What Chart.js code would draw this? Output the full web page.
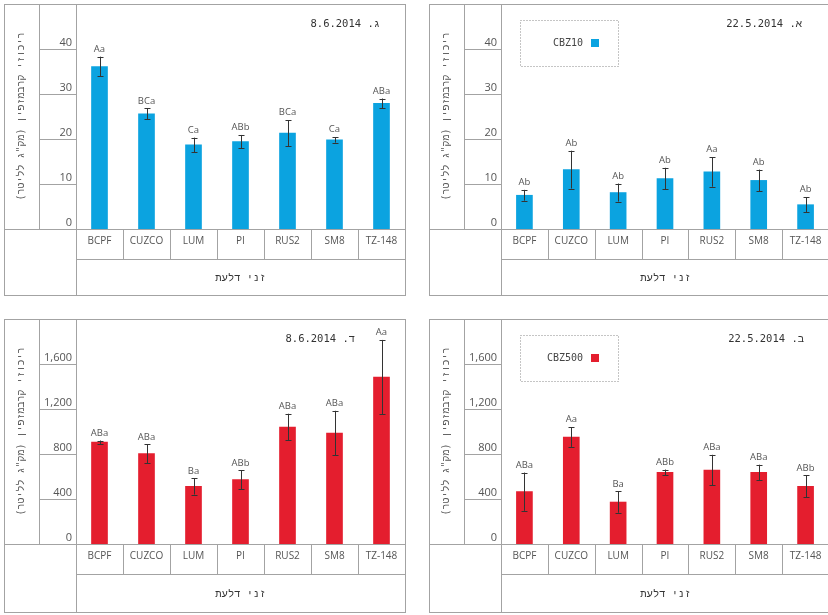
<!DOCTYPE html>
<html><head><meta charset="utf-8">
<script src="https://cdn.jsdelivr.net/npm/chart.js@4/dist/chart.umd.min.js"></script>
<style>
html,body{margin:0;padding:0;background:#fff;overflow:hidden;width:828px;height:615px;position:relative;}
canvas{position:absolute;}
</style></head><body>
<canvas id="cC" style="left:0px;top:0px" width="410" height="300"></canvas>
<canvas id="cA" style="left:425px;top:0px" width="410" height="300"></canvas>
<canvas id="cD" style="left:0px;top:315px" width="410" height="300"></canvas>
<canvas id="cB" style="left:425px;top:315px" width="410" height="300"></canvas>
<script>
// ---- data ----
const categories = ['BCPF','CUZCO','LUM','PI','RUS2','SM8','TZ-148'];

// א. 22.5.2014 – CBZ10
const aMeans   = [7.5, 13.2, 8.1, 11.2, 12.7, 10.8, 5.4];
const aErrors  = [1.2, 4.2, 2.0, 2.4, 3.3, 2.4, 1.7];
const aLetters = ['Ab','Ab','Ab','Ab','Aa','Ab','Ab'];

// ב. 22.5.2014 – CBZ500
const bMeans   = [465, 951, 373, 637, 658, 637, 512];
const bErrors  = [170, 88, 95, 25, 135, 68, 97];
const bLetters = ['ABa','Aa','Ba','ABb','ABa','ABa','ABb'];

// ג. 8.6.2014 – CBZ10
const cMeans   = [36.1, 25.6, 18.7, 19.4, 21.3, 19.8, 27.9];
const cErrors  = [2.2, 1.2, 1.6, 1.5, 2.9, 0.6, 1.1];
const cLetters = ['Aa','BCa','Ca','ABb','BCa','Ca','ABa'];

// ד. 8.6.2014 – CBZ500
const dMeans   = [905, 803, 512, 572, 1040, 987, 1484];
const dErrors  = [15, 83, 72, 83, 118, 197, 330];
const dLetters = ['ABa','ABa','Ba','ABb','ABa','ABa','Aa'];

const lowTicks  = [0, 10, 20, 30, 40];
const lowTickLabels = ['0','10','20','30','40'];
const highTicks = [0, 400, 800, 1200, 1600];
const highTickLabels = ['0','400','800','1,200','1,600'];

const yTitle = 'ריכוזי קרבמזפין (מק"ג לליטר)';
const xTitle = 'זני דלעת';

const BLUE = '#0ba3e0';
const RED  = '#e41e2e';

const MONO = '"DejaVu Sans Mono", "Liberation Mono", monospace';
const SANS = '"Open Sans", "Noto Sans", sans-serif';

const tablePlugin = {
  id: 'table',
  afterDatasetsDraw(chart, args, o) {
    const ctx = chart.ctx, ca = chart.chartArea;
    const xs = chart.scales.x, ys = chart.scales.y;
    const L = 4, T = 4, R = o.boxRight, B = o.boxBottom, colX = 39;
    const base = ys.getPixelForValue(0);
    const rowY = base + 30;
    const p = v => Math.round(v) + 0.5;
    ctx.save();
    ctx.strokeStyle = '#a3a3a3';
    ctx.lineWidth = 1;
    const line = (x1, y1, x2, y2) => { ctx.beginPath(); ctx.moveTo(x1, y1); ctx.lineTo(x2, y2); ctx.stroke(); };
    // outer box
    ctx.strokeRect(p(L), p(T), Math.round(R - L), Math.round(B - T));
    // baseline across
    line(L, p(base), R, p(base));
    // vertical separators
    line(p(ca.left), T, p(ca.left), B);
    line(p(colX), T, p(colX), p(base));
    // tick lines in the label column
    o.ticks.forEach(v => {
      if (v === 0) return;
      const y = p(ys.getPixelForValue(v));
      line(colX, y, ca.left, y);
    });
    // category row
    line(ca.left, p(rowY), R, p(rowY));
    const n = o.cats.length;
    for (let i = 1; i < n; i++) {
      const x = p((xs.getPixelForValue(i - 1) + xs.getPixelForValue(i)) / 2);
      line(x, base, x, rowY);
    }
    // error bars
    ctx.strokeStyle = '#333';
    const ds = chart.data.datasets[0].data;
    ds.forEach((m, i) => {
      const x = p(xs.getPixelForValue(i));
      const e = o.errors[i];
      const yt = ys.getPixelForValue(m + e), yb = ys.getPixelForValue(Math.max(0, m - e));
      line(x, yt, x, yb);
      line(x - 3, p(yt), x + 3, p(yt));
      line(x - 3, p(yb), x + 3, p(yb));
      // letters
      ctx.fillStyle = '#555';
      ctx.font = '9.5px ' + SANS;
      ctx.textAlign = 'center';
      ctx.textBaseline = 'middle';
      ctx.fillText(o.letters[i], xs.getPixelForValue(i), yt - 7.5);
    });
    // tick labels
    ctx.fillStyle = '#555';
    ctx.font = '11px ' + SANS;
    ctx.textAlign = 'right';
    ctx.textBaseline = 'middle';
    o.ticks.forEach((v, k) => {
      ctx.fillText(o.tickLabels[k], ca.left - 4, ys.getPixelForValue(v) - 6.5);
    });
    // category labels
    ctx.font = '10px ' + SANS;
    ctx.textAlign = 'center';
    o.cats.forEach((c, i) => ctx.fillText(c, xs.getPixelForValue(i), base + 12));
    // x title
    ctx.fillStyle = '#333';
    ctx.font = '10.5px ' + MONO;
    ctx.direction = 'rtl';
    ctx.textAlign = 'center';
    ctx.fillText(xTitle, (ca.left + 405) / 2, (rowY + B) / 2 + 1);
    // y title
    ctx.save();
    ctx.fillStyle = '#555';
    ctx.font = '10px ' + MONO;
    ctx.translate(21.5, (ca.top + base) / 2);
    ctx.rotate(-Math.PI / 2);
    ctx.textAlign = 'center';
    ctx.fillText(yTitle, 0, 0);
    ctx.restore();
    // panel title
    ctx.fillStyle = '#333';
    ctx.font = '10.5px ' + MONO;
    ctx.textAlign = 'right';
    ctx.fillText(o.title, o.titleRight, 24);
    // legend
    if (o.legend) {
      ctx.direction = 'ltr';
      ctx.strokeStyle = '#8a8a8a';
      ctx.setLineDash([1, 2]);
      ctx.strokeRect(95.5, 20.5, 98, 46);
      ctx.setLineDash([]);
      ctx.fillStyle = '#444';
      ctx.font = '10px ' + MONO;
      ctx.textAlign = 'right';
      ctx.fillText(chart.data.datasets[0].label, 158, 43.5);
      ctx.fillStyle = chart.data.datasets[0].backgroundColor;
      ctx.fillRect(166, 39, 8, 8);
    }
    ctx.restore();
  }
};

function makeChart(id, means, errors, letters, ticks, tickLabels, max, color, label, title, titleRight, legend, boxRight, boxBottom) {
  new Chart(document.getElementById(id), {
    type: 'bar',
    data: {
      labels: categories,
      datasets: [{ label: label, data: means, backgroundColor: color, borderWidth: 0,
                   barThickness: 16, categoryPercentage: 1, barPercentage: 1 }]
    },
    options: {
      responsive: false, animation: false, devicePixelRatio: 1,
      layout: { padding: { left: 76, right: 410 - boxRight, top: 4, bottom: 71 } },
      scales: {
        x: { display: false },
        y: { display: false, min: 0, max: max }
      },
      plugins: {
        legend: { display: false }, tooltip: { enabled: false },
        table: { cats: categories, errors, letters, ticks, tickLabels, title, titleRight, legend, boxRight, boxBottom }
      }
    },
    plugins: [tablePlugin]
  });
}

makeChart('cC', cMeans, cErrors, cLetters, lowTicks, lowTickLabels, 50, BLUE, 'CBZ10', 'ג. 8.6.2014', 380, false, 405, 295);
makeChart('cA', aMeans, aErrors, aLetters, lowTicks, lowTickLabels, 50, BLUE, 'CBZ10', 'א. 22.5.2014', 377, true, 404, 295);
makeChart('cD', dMeans, dErrors, dLetters, highTicks, highTickLabels, 2000, RED, 'CBZ500', 'ד. 8.6.2014', 355, false, 405, 297);
makeChart('cB', bMeans, bErrors, bLetters, highTicks, highTickLabels, 2000, RED, 'CBZ500', 'ב. 22.5.2014', 379, true, 404, 297);
</script>
</body></html>
